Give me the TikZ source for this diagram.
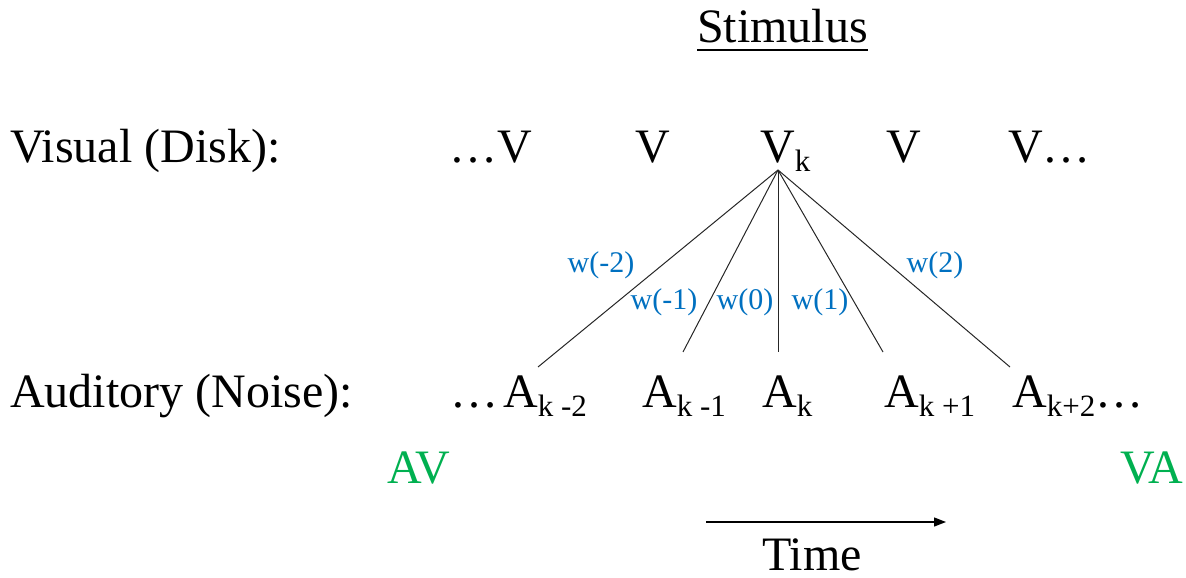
\documentclass[tikz,border=0pt]{standalone}
\usepackage{fontspec}
\setmainfont{Liberation Serif}
\usetikzlibrary{arrows.meta}
\definecolor{wblue}{HTML}{0070C0}
\definecolor{pgreen}{HTML}{00B050}
\newcommand{\sbs}[1]{\raisebox{-9pt}{\fontsize{31}{31}\selectfont #1}}
\tikzset{
  big/.style={font=\fontsize{48}{56}\selectfont, inner sep=0pt, anchor=base west},
  wlab/.style={font=\fontsize{30}{34}\selectfont, text=wblue, inner sep=0pt, anchor=center},
  glab/.style={big, text=pgreen},
  link/.style={line width=1pt, black!85},
}
\begin{document}
\begin{tikzpicture}[x=1pt,y=-1pt]
\useasboundingbox (0,0) rectangle (1186,578);
\node[big] (stim) at (697,43) {Stimulus};
\draw[line width=2pt] (stim.base west) ++(0,7) -- ([yshift=-7pt]stim.base east);
\node[big] (vis) at (10,162) {Visual (Disk):};
\node[big] (v1) at (449,162) {…V};
\node[big] (v2) at (635,162) {V};
\node[big] (vk) at (760,162) {V\sbs{k}};
\node[big] (v4) at (886,162) {V};
\node[big] (v5) at (1008,162) {V…};
\node[big] (aud) at (10,407) {Auditory (Noise):};
\node[big] (dots) at (450,407) {…};
\node[big] (am2) at (503,407) {A\sbs{k -2}};
\node[big] (am1) at (642,407) {A\sbs{k -1}};
\node[big] (ak) at (762,407) {A\sbs{k}};
\node[big] (ap1) at (884,407) {A\sbs{k +1}};
\node[big] (ap2) at (1012,407) {A\sbs{k+2}…};
\coordinate (apex) at (778,170);
\coordinate (em2) at (538,367);
\coordinate (em1) at (683,352);
\coordinate (e0) at (778,352);
\coordinate (ep1) at (883,352);
\coordinate (ep2) at (1010,367);
\draw[link] (apex) -- (em2);
\draw[link] (apex) -- (em1);
\draw[link] (apex) -- (e0);
\draw[link] (apex) -- (ep1);
\draw[link] (apex) -- (ep2);
\node[wlab] (wm2) at (601,265) {w(-2)};
\node[wlab] (wm1) at (664,302) {w(-1)};
\node[wlab] (w0) at (745,302) {w(0)};
\node[wlab] (wp1) at (820,302) {w(1)};
\node[wlab] (wp2) at (935,265) {w(2)};
\node[glab] (av) at (387,483) {AV};
\node[glab] (va) at (1120,483) {VA};
\coordinate (t0) at (706,522);
\coordinate (t1) at (946,522);
\draw[line width=1.3pt, -{Triangle[length=12pt,width=9pt]}] (t0) -- (t1);
\node[big] (time) at (762,570) {Time};
\end{tikzpicture}
\end{document}
